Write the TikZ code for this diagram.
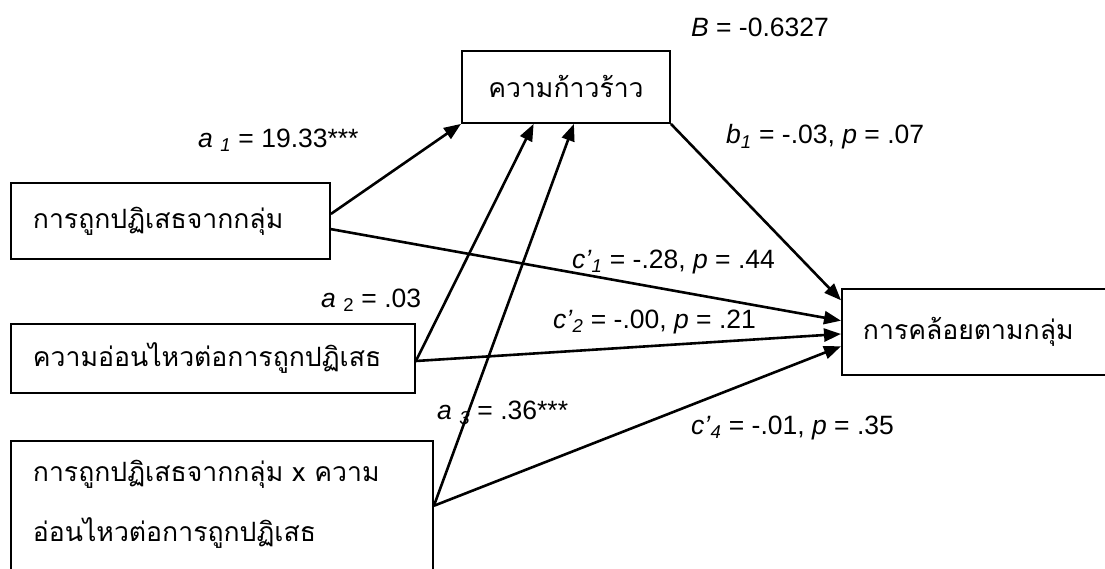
\documentclass[tikz,border=0pt]{standalone}
\usepackage{fontspec}
\setmainfont{Liberation Sans}
\newfontfamily\thaifont[Script=Thai]{Loma}
\usetikzlibrary{arrows.meta,calc}
\begin{document}
\begin{tikzpicture}[x=1pt,y=-1pt,
  box/.style={draw, line width=1.9pt, rectangle, inner ysep=0pt, anchor=north west,
    font=\thaifont\fontsize{26.6}{60}\selectfont, align=left},
  arr/.style={line width=2.6pt, -{Triangle[length=17pt,width=13pt]}},
  lab/.style={font=\fontsize{26.5}{30}\selectfont, inner sep=0pt, anchor=west}]
\useasboundingbox (0,0) rectangle (1105,569);
\clip (0,0) rectangle (1105,569);
% boxes
\node[box, align=center, minimum width=208pt, minimum height=72pt] (m) at (461,50) {ความก้าวร้าว};
\node[box, inner xsep=22pt, text width=275pt, minimum height=76pt] (x1) at (10,182) {การถูกปฏิเสธจากกลุ่ม};
\node[box, inner xsep=22pt, text width=360pt, minimum height=69pt] (x2) at (10,323) {ความอ่อนไหวต่อการถูกปฏิเสธ};
\node[box, inner xsep=22pt, text width=378pt, minimum height=150pt] (x3) at (10,440) {การถูกปฏิเสธจากกลุ่ม x ความ\\อ่อนไหวต่อการถูกปฏิเสธ\rule[-30pt]{0pt}{0pt}};
\node[box, inner xsep=21pt, text width=258pt, minimum height=86pt] (y) at (841,288) {การคล้อยตามกลุ่ม};
% connectors
\draw[arr] ($(x1.north east)!0.41!(x1.south east)$) -- (m.south west);
\draw[arr] ($(x2.north east)!0.536!(x2.south east)$) -- ($(m.south west)!0.346!(m.south east)$);
\draw[arr] ($(x3.north east)!0.433!(x3.south east)$) -- ($(m.south west)!0.538!(m.south east)$);
\draw[arr] (m.south east) -- ($(y.north west)!0.14!(y.south west)$);
\draw[arr] ($(x1.north east)!0.605!(x1.south east)$) -- ($(y.north west)!0.372!(y.south west)$);
\draw[arr] ($(x2.north east)!0.536!(x2.south east)$) -- ($(y.north west)!0.523!(y.south west)$);
\draw[arr] ($(x3.north east)!0.433!(x3.south east)$) -- ($(y.north west)!0.663!(y.south west)$);
% labels
\node[lab, anchor=center] (lB) at (760,27) {\textit{B} = -0.6327};
\node[lab] (la1) at (198,140) {\textit{a} \textsubscript{\textit{1}} = 19.33***};
\node[lab] (lb1) at (726,137) {\textit{b}\textsubscript{\textit{1}} = -.03, \textit{p} = .07};
\node[lab] (lc1) at (572,262) {\textit{c’}\textsubscript{\textit{1}} = -.28, \textit{p} = .44};
\node[lab] (la2) at (321,300) {\textit{a} \textsubscript{2} = .03};
\node[lab] (lc2) at (553,322) {\textit{c’}\textsubscript{\textit{2}} = -.00, \textit{p} = .21};
\node[lab] (la3) at (437,413) {\textit{a} \textsubscript{\textit{3}} = .36***};
\node[lab] (lc4) at (691,428) {\textit{c’}\textsubscript{\textit{4}} = -.01, \textit{p} = .35};
\end{tikzpicture}
\end{document}
